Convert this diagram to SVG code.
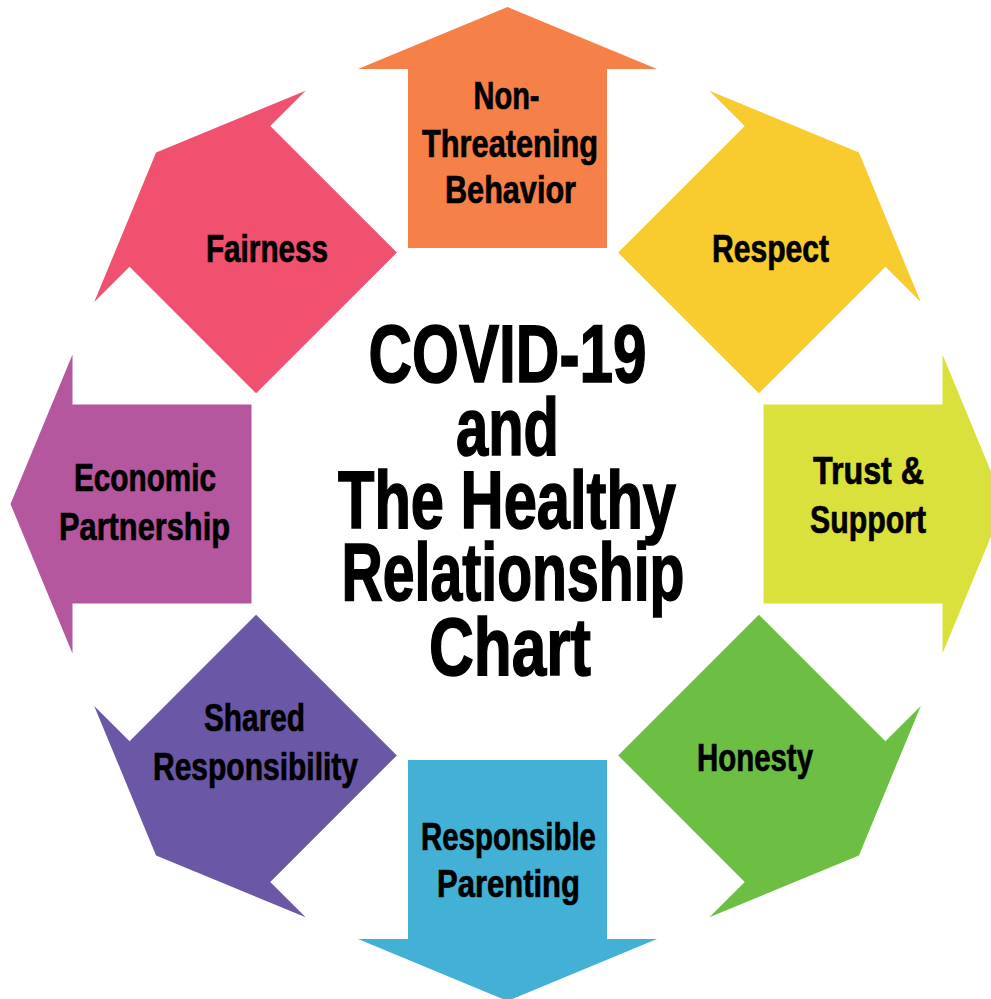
<svg xmlns="http://www.w3.org/2000/svg" xmlns:xlink="http://www.w3.org/1999/xlink" width="991" height="999" viewBox="0 0 991 999">
  <defs>
    <!-- One outward arrow, pointing up, drawn around the chart centre -->
    <path id="arrow" d="M 0 -497 L 149.5 -435 L 99.5 -435 L 99.5 -256 L -99.5 -256 L -99.5 -435 L -149.5 -435 Z"/>
  </defs>
  <style>
    .lbl { font-family: "Liberation Sans", Arial, sans-serif; font-weight: bold; font-size: 38px; fill: #000; stroke: #000; stroke-width: 0.7px; text-anchor: middle; }
    .title { font-family: "Liberation Sans", Arial, sans-serif; font-weight: bold; font-size: 82px; fill: #000; stroke: #000; stroke-width: 1.6px; text-anchor: middle; }
  </style>
  <rect x="0" y="0" width="991" height="999" fill="#ffffff"/>

  <g id="connectors"/>

  <g id="node-non-threatening">
    <use xlink:href="#arrow" transform="translate(507.5,504) rotate(0)" fill="#F58149"/>
    <text class="lbl" x="506.5" y="109" textLength="66" lengthAdjust="spacingAndGlyphs">Non-</text>
    <text class="lbl" x="510" y="157" textLength="176" lengthAdjust="spacingAndGlyphs">Threatening</text>
    <text class="lbl" x="510.5" y="203" textLength="131" lengthAdjust="spacingAndGlyphs">Behavior</text>
  </g>

  <g id="node-respect">
    <use xlink:href="#arrow" transform="translate(507.5,504) rotate(45)" fill="#F8CB2E"/>
    <text class="lbl" x="770.5" y="262" textLength="117" lengthAdjust="spacingAndGlyphs">Respect</text>
  </g>

  <g id="node-trust-support">
    <use xlink:href="#arrow" transform="translate(507.5,504) rotate(90)" fill="#DBE13C"/>
    <text class="lbl" x="868.5" y="484" textLength="111" lengthAdjust="spacingAndGlyphs">Trust &amp;</text>
    <text class="lbl" x="868" y="533" textLength="116" lengthAdjust="spacingAndGlyphs">Support</text>
  </g>

  <g id="node-honesty">
    <use xlink:href="#arrow" transform="translate(507.5,504) rotate(135)" fill="#6DBF44"/>
    <text class="lbl" x="755" y="771" textLength="116" lengthAdjust="spacingAndGlyphs">Honesty</text>
  </g>

  <g id="node-responsible-parenting">
    <use xlink:href="#arrow" transform="translate(507.5,504) rotate(180)" fill="#43B1D6"/>
    <text class="lbl" x="508.5" y="850" textLength="175" lengthAdjust="spacingAndGlyphs">Responsible</text>
    <text class="lbl" x="508.5" y="897" textLength="143" lengthAdjust="spacingAndGlyphs">Parenting</text>
  </g>

  <g id="node-shared-responsibility">
    <use xlink:href="#arrow" transform="translate(507.5,504) rotate(225)" fill="#6A57A5"/>
    <text class="lbl" x="254.5" y="731" textLength="101" lengthAdjust="spacingAndGlyphs">Shared</text>
    <text class="lbl" x="255.5" y="780" textLength="205" lengthAdjust="spacingAndGlyphs">Responsibility</text>
  </g>

  <g id="node-economic-partnership">
    <use xlink:href="#arrow" transform="translate(507.5,504) rotate(270)" fill="#B4579F"/>
    <text class="lbl" x="145" y="491" textLength="142" lengthAdjust="spacingAndGlyphs">Economic</text>
    <text class="lbl" x="144.5" y="540" textLength="171" lengthAdjust="spacingAndGlyphs">Partnership</text>
  </g>

  <g id="node-fairness">
    <use xlink:href="#arrow" transform="translate(507.5,504) rotate(315)" fill="#F0516E"/>
    <text class="lbl" x="267" y="262" textLength="122" lengthAdjust="spacingAndGlyphs">Fairness</text>
  </g>

  <g id="title">
    <text class="title" x="507.5" y="382" textLength="278" lengthAdjust="spacingAndGlyphs">COVID-19</text>
    <text class="title" x="507.5" y="455" textLength="103" lengthAdjust="spacingAndGlyphs">and</text>
    <text class="title" x="507" y="528" textLength="338" lengthAdjust="spacingAndGlyphs">The Healthy</text>
    <text class="title" x="513" y="600" textLength="343" lengthAdjust="spacingAndGlyphs">Relationship</text>
    <text class="title" x="510" y="675" textLength="162" lengthAdjust="spacingAndGlyphs">Chart</text>
  </g>
</svg>
